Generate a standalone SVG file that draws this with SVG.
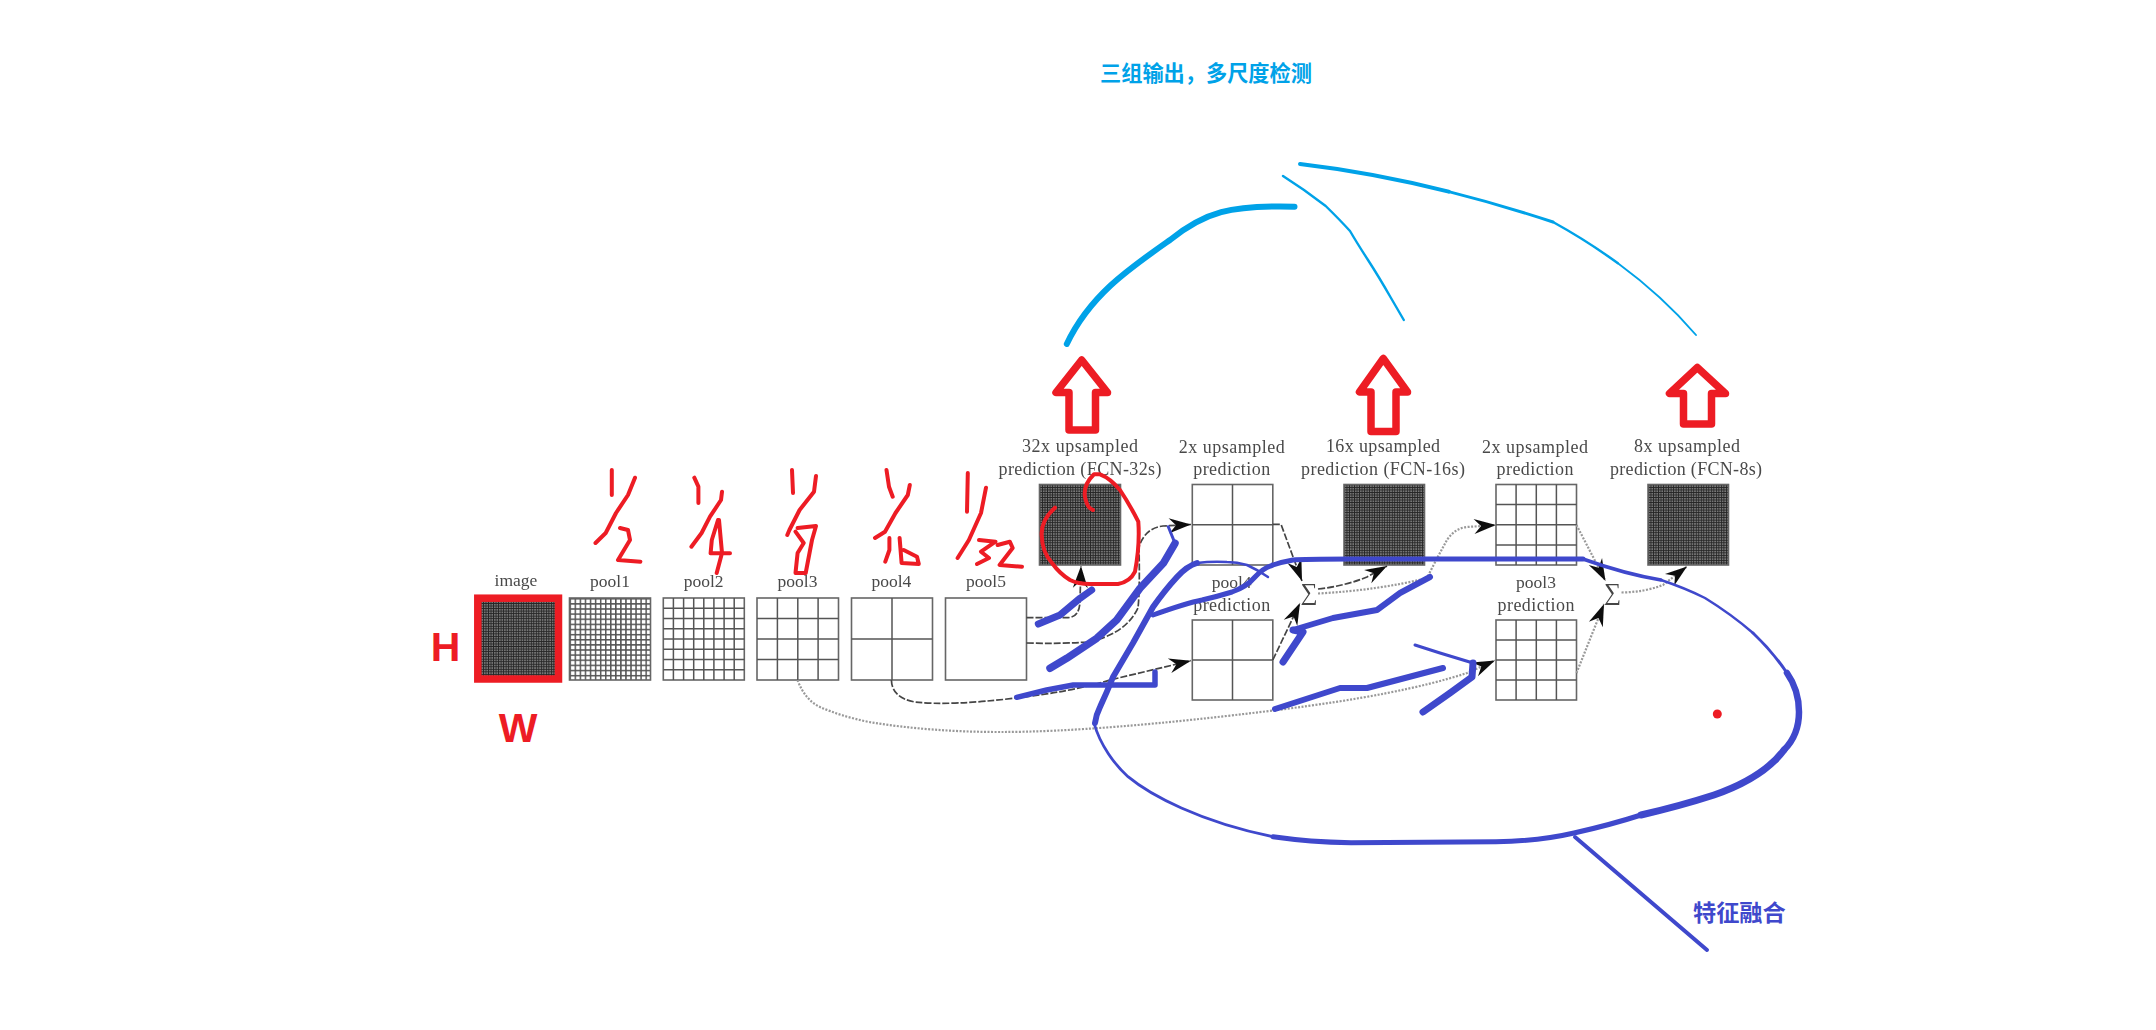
<svg xmlns="http://www.w3.org/2000/svg" width="2156" height="1030" viewBox="0 0 2156 1030">
<style>
.lbl{font-family:"Liberation Serif",serif;font-size:18px;fill:#4a4a4a;text-anchor:middle}
.pl{font-size:17.5px}
.box{stroke:#666;stroke-width:1.6}
.gl{fill:none;stroke:#555;stroke-width:1.5}
.dash{fill:none;stroke:#444;stroke-width:1.7;stroke-dasharray:7 2}
.dot{fill:none;stroke:#999;stroke-width:2.2;stroke-dasharray:2 1.5}
.sum{font-family:"Liberation Serif",serif;font-size:24px;fill:#444;text-anchor:middle}
.blue{fill:none;stroke:#3f48cc;stroke-linecap:round;stroke-linejoin:round}
.sky{fill:none;stroke:#00a2e8;stroke-linecap:round;stroke-linejoin:round}
.red{fill:none;stroke:#ed1c24;stroke-width:4;stroke-linecap:round;stroke-linejoin:round}
.up{fill:none;stroke:#ed1c24;stroke-width:7.5;stroke-linejoin:round}
.rt{font-family:"Liberation Sans",sans-serif;font-weight:700;font-size:41px;fill:#ed1c24;text-anchor:middle}
.cjk{font-family:"Noto Sans CJK SC",sans-serif;font-weight:700}
</style>
<defs>
<filter id="soft" x="-5%" y="-5%" width="110%" height="110%"><feGaussianBlur stdDeviation="0.65"/></filter>
<pattern id="g32" patternUnits="objectBoundingBox" width="0.03125" height="0.03125"><rect width="2.6" height="2.6" fill="#787878"/><path d="M0 0H2.6M0 0V2.6" stroke="#262626" stroke-width="1.8"/></pattern>
<pattern id="g16" patternUnits="objectBoundingBox" width="0.0625" height="0.0625"><rect width="5.1" height="5.1" fill="#fff"/><path d="M0 0H5.1M0 0V5.1" stroke="#555" stroke-width="3"/></pattern>
<marker id="ah" viewBox="-23 -9 25 18" refX="0" refY="0" markerWidth="25" markerHeight="18" markerUnits="userSpaceOnUse" orient="auto"><path d="M0 0L-22 -7.5L-15 0L-22 7.5Z" fill="#111"/></marker>
</defs>
<rect width="2156" height="1030" fill="#fff"/>
<g filter="url(#soft)">
<g id="image"><text class="lbl pl" x="516" y="586">image</text><rect x="478" y="598" width="80.5" height="81" fill="url(#g32)" class="box"/></g>
<g id="pool1"><text class="lbl pl" x="610" y="587">pool1</text><rect x="569.5" y="598" width="81" height="82" fill="url(#g16)" class="box"/></g>
<g id="pool2"><text class="lbl pl" x="703.7" y="587">pool2</text><rect x="663.3" y="598" width="81" height="82" fill="#fff" class="box"/><path class="gl" d="M673.4 598v82M683.6 598v82M693.7 598v82M703.8 598v82M713.9 598v82M724.1 598v82M734.2 598v82M663.3 608.3h81M663.3 618.5h81M663.3 628.8h81M663.3 639h81M663.3 649.3h81M663.3 659.5h81M663.3 669.8h81"/></g>
<g id="pool3"><text class="lbl pl" x="797.5" y="587">pool3</text><rect x="757" y="598" width="81.5" height="82" fill="#fff" class="box"/><path class="gl" d="M777.4 598v82M797.8 598v82M818.1 598v82M757 618.5h81.5M757 639h81.5M757 659.5h81.5"/></g>
<g id="pool4"><text class="lbl pl" x="891.4" y="587">pool4</text><rect x="851.5" y="598" width="81" height="82" fill="#fff" class="box"/><path class="gl" d="M892 598v82M851.5 639h81"/></g>
<g id="pool5"><text class="lbl pl" x="986" y="587">pool5</text><rect x="945.5" y="598" width="81" height="82" fill="#fff" class="box"/></g>
<g id="fcn32"><text class="lbl" x="1080" y="452" textLength="116" lengthAdjust="spacing">32x upsampled</text><text class="lbl" x="1080" y="474.5" textLength="163" lengthAdjust="spacing">prediction (FCN-32s)</text><rect x="1039.5" y="484.5" width="81" height="80.5" fill="url(#g32)" class="box"/></g>
<g id="up2a"><text class="lbl" x="1231.7" y="452.5" textLength="106" lengthAdjust="spacing">2x upsampled</text><text class="lbl" x="1231.7" y="475" textLength="77" lengthAdjust="spacing">prediction</text><rect x="1192.3" y="484.5" width="80.5" height="80.5" fill="#fff" class="box"/><path class="gl" d="M1232.5 484.5v80.5M1192.3 524.7h80.5"/></g>
<g id="pool4pred"><text class="lbl pl" x="1231.7" y="588">pool4</text><text class="lbl" x="1231.7" y="611" textLength="77" lengthAdjust="spacing">prediction</text><rect x="1192.3" y="620" width="80.5" height="80" fill="#fff" class="box"/><path class="gl" d="M1232.5 620v80M1192.3 660h80.5"/></g>
<g id="fcn16"><text class="lbl" x="1383" y="452" textLength="114" lengthAdjust="spacing">16x upsampled</text><text class="lbl" x="1383" y="474.5" textLength="164" lengthAdjust="spacing">prediction (FCN-16s)</text><rect x="1344" y="484.5" width="80.5" height="80.5" fill="url(#g32)" class="box"/></g>
<g id="up2b"><text class="lbl" x="1535" y="452.5" textLength="106" lengthAdjust="spacing">2x upsampled</text><text class="lbl" x="1535" y="475" textLength="77" lengthAdjust="spacing">prediction</text><rect x="1496" y="484.5" width="80.5" height="80.5" fill="#fff" class="box"/><path class="gl" d="M1516.1 484.5v80.5M1536.3 484.5v80.5M1556.4 484.5v80.5M1496 504.6h80.5M1496 524.8h80.5M1496 544.9h80.5"/></g>
<g id="pool3pred"><text class="lbl pl" x="1536" y="588">pool3</text><text class="lbl" x="1536" y="611" textLength="77" lengthAdjust="spacing">prediction</text><rect x="1496" y="620" width="80.5" height="80" fill="#fff" class="box"/><path class="gl" d="M1516.1 620v80M1536.3 620v80M1556.4 620v80M1496 640h80.5M1496 660h80.5M1496 680h80.5"/></g>
<g id="fcn8"><text class="lbl" x="1687" y="452" textLength="106" lengthAdjust="spacing">8x upsampled</text><text class="lbl" x="1686" y="474.5" textLength="152" lengthAdjust="spacing">prediction (FCN-8s)</text><rect x="1648" y="484.5" width="80.5" height="80.5" fill="url(#g32)" class="box"/></g>
<g id="sum1"><text class="sum" x="1309" y="600">∑</text></g>
<g id="sum2"><text class="sum" x="1612.5" y="600">∑</text></g>
<g id="connectors">
<path class="dash" marker-end="url(#ah)" d="M1026.5 617.7H1068Q1080 617 1080 600L1081 566"/>
<path class="dash" marker-end="url(#ah)" d="M1026.5 643Q1060 644 1087 642Q1125 635 1138 608Q1140 590 1139 547Q1145 528 1163 526L1191 524.5"/>
<path class="dash" marker-end="url(#ah)" d="M891.4 680Q892 698 915 702Q950 706 1016 698Q1070 692 1110 680L1191 660.7"/>
<path class="dot" marker-end="url(#ah)" d="M797.5 680Q805 700 820 707Q840 716 869 722Q930 732 1000 732Q1100 732 1277 710Q1400 695 1467 673L1495 660.5"/>
<path class="dash" marker-end="url(#ah)" d="M1272.8 524.3H1281L1302 581"/>
<path class="dash" marker-end="url(#ah)" d="M1272.8 660L1300 603"/>
<path class="dash" marker-end="url(#ah)" d="M1318 589Q1345 586 1367 577L1387 566"/>
<path class="dot" marker-end="url(#ah)" d="M1318 593.5Q1380 590 1427 578Q1437 558 1447 540Q1455 528 1467 527L1496 525"/>
<path class="dot" marker-end="url(#ah)" d="M1576.5 525L1605.5 581"/>
<path class="dot" marker-end="url(#ah)" d="M1576.5 673L1604 604"/>
<path class="dot" marker-end="url(#ah)" d="M1621.5 592.5Q1645 592 1663 585L1687 566.5"/>
</g>
</g>
<g id="annotations">
<g id="red-box"><rect x="477.8" y="598.2" width="80.7" height="80.8" fill="none" stroke="#ed1c24" stroke-width="7.5"/></g>
<text class="rt" x="445.5" y="661">H</text>
<text class="rt" x="518" y="742">W</text>
<path class="up" d="M1081.7 360L1056 392.5H1069V430H1095.5V392.5H1107.5Z"/>
<path class="up" d="M1383.3 358.5L1359.5 392H1371V431.5H1396V392H1407.5Z"/>
<path class="up" d="M1697.3 367.5L1669.5 393.5H1683.5V424H1711.5V393.5H1725.5Z"/>
<path class="red" d="M611.8 470V495M635 477.7L628 495L616 513L605.7 533L595.5 543M620 528L628 530L630 540L618 560L640.4 561.7"/>
<path class="red" d="M694.3 477.7L698.4 486.7V503M722 491.7L721 500L710 516.7L701.6 533L691.4 546.7M718 520L711.8 540L710.6 553.3H730M719 520L722 553L716.7 573"/>
<path class="red" d="M792 470L793 493M816 476L814 491.7L799.6 510L789.4 530L787.3 535M797.6 528L816 526L812 540L805.7 573H795.5L797.6 553L803.7 543L795.5 531.7"/>
<path class="red" d="M886.5 470L889 486.7L892.7 496.7M909.8 485L907.8 495L895.5 513L885 531.7L875 538M889.4 538V550L885.3 561.7M899.6 538L901.6 563L918.8 564L917 556.7L903.7 550"/>
<path class="red" d="M967.8 473L967 511.7M986 487.7L981 513L968.9 540L957.6 558M979 540L995.5 541.7L981 551.7L989 558L977 564M997.6 545L1009.8 541.7L1012.7 548L999.6 565L1022 566.7"/>
<path class="red" d="M1055 507.7Q1041 520 1041.7 535Q1042 552 1052 563Q1060 574 1070 580Q1078 584 1090 584H1118Q1130 582 1135 571.7Q1140 545 1138.3 521.7Q1130 505 1120 490Q1110 478 1100 474.3H1094Q1083 485 1085 497Q1087 508 1093 510"/>
<circle cx="1717.3" cy="714" r="4.5" fill="#ed1c24"/>
<path class="sky" stroke-width="6" d="M1066.8 344C1090 295 1130 268 1170 240C1205 212 1230 205 1294.5 206.7"/>
<path class="sky" stroke-width="2.4" d="M1283 176L1304 190L1325.7 206Q1340 220 1350 231Q1357 243 1368 260Q1379 277 1391 298L1403.8 320"/>
<path class="sky" stroke-width="4" d="M1300 164Q1372 172.4 1448.7 191.6"/>
<path class="sky" stroke-width="3" d="M1448.7 191.6Q1499.8 204.4 1553 222"/>
<path class="sky" stroke-width="2.5" d="M1553 222Q1587.8 241.2 1617.6 263.1"/>
<path class="sky" stroke-width="1.9" d="M1617.6 263.1Q1662.4 296 1696 335"/>
<text class="cjk" x="1100" y="81" font-size="21.2" fill="#00a2e8">三组输出&#xFF0C;多尺度检测</text>
<path class="blue" stroke-width="7" d="M1038.3 624L1060 615L1080 598.3L1091.7 590"/>
<path class="blue" stroke-width="7.5" d="M1050 668.3L1066.7 658.3L1096.7 638.3L1116.7 620L1140 588.3L1163.3 563.3L1175 543.3"/>
<path class="blue" stroke-width="3" d="M1175 543.3L1168.3 526.7"/>
<path class="blue" stroke-width="5.5" d="M1016.7 697.3L1046.7 690L1073.3 685H1155V672"/>
<path class="blue" stroke-width="5" d="M1153 615Q1186.7 603 1202 600Q1216.7 596.7 1232 592Q1246.7 586.7 1255 577Q1263 568 1273 565Q1283 561.7 1293 560Q1303 559 1350 559H1583"/>
<path class="blue" stroke-width="3.5" d="M1583 559Q1625 574 1661 580"/>
<path class="blue" stroke-width="2.5" d="M1661 580Q1685 588 1705 598Q1731 614 1753 633"/>
<path class="blue" stroke-width="3" d="M1753 633Q1773 652 1787 673"/>
<path class="blue" stroke-width="6.5" d="M1787 673Q1799 690 1799 712Q1799 735 1784 750"/>
<path class="blue" stroke-width="7" d="M1784 750Q1763 778 1714 795Q1680 806 1641 815"/>
<path class="blue" stroke-width="5" d="M1641 815Q1610 825 1574 833Q1540 841 1496 841.7L1351 842.7Q1310 842 1273 836.7"/>
<path class="blue" stroke-width="2.8" d="M1273 836.7C1200 822 1150 795 1128 776.7C1115 765 1100 745 1094 723"/>
<path class="blue" stroke-width="6" d="M1095 723Q1096 715 1100 707Q1107 692 1113 677Q1123 660 1133 643L1153 607Q1165 590 1177 577Q1187 566 1197 563"/>
<path class="blue" stroke-width="2.5" d="M1197 563Q1212 561 1227 562Q1237 562 1247 565Q1258 570 1268 577"/>
<path class="blue" stroke-width="7" d="M1283 662L1303 632L1293 630"/>
<path class="blue" stroke-width="6" d="M1293 630L1333 618L1377 610L1400 593L1430 577"/>
<path class="blue" stroke-width="6" d="M1275 709L1340 688H1367L1443 668"/>
<path class="blue" stroke-width="3" d="M1415 645L1440 653L1473 663"/>
<path class="blue" stroke-width="7" d="M1473 663L1472 677L1450 693L1423 712"/>
<path class="blue" stroke-width="4" d="M1575 837L1707 950"/>
<text class="cjk" x="1693" y="921" font-size="23.2" fill="#3f48cc">特征融合</text>
</g>
</svg>
